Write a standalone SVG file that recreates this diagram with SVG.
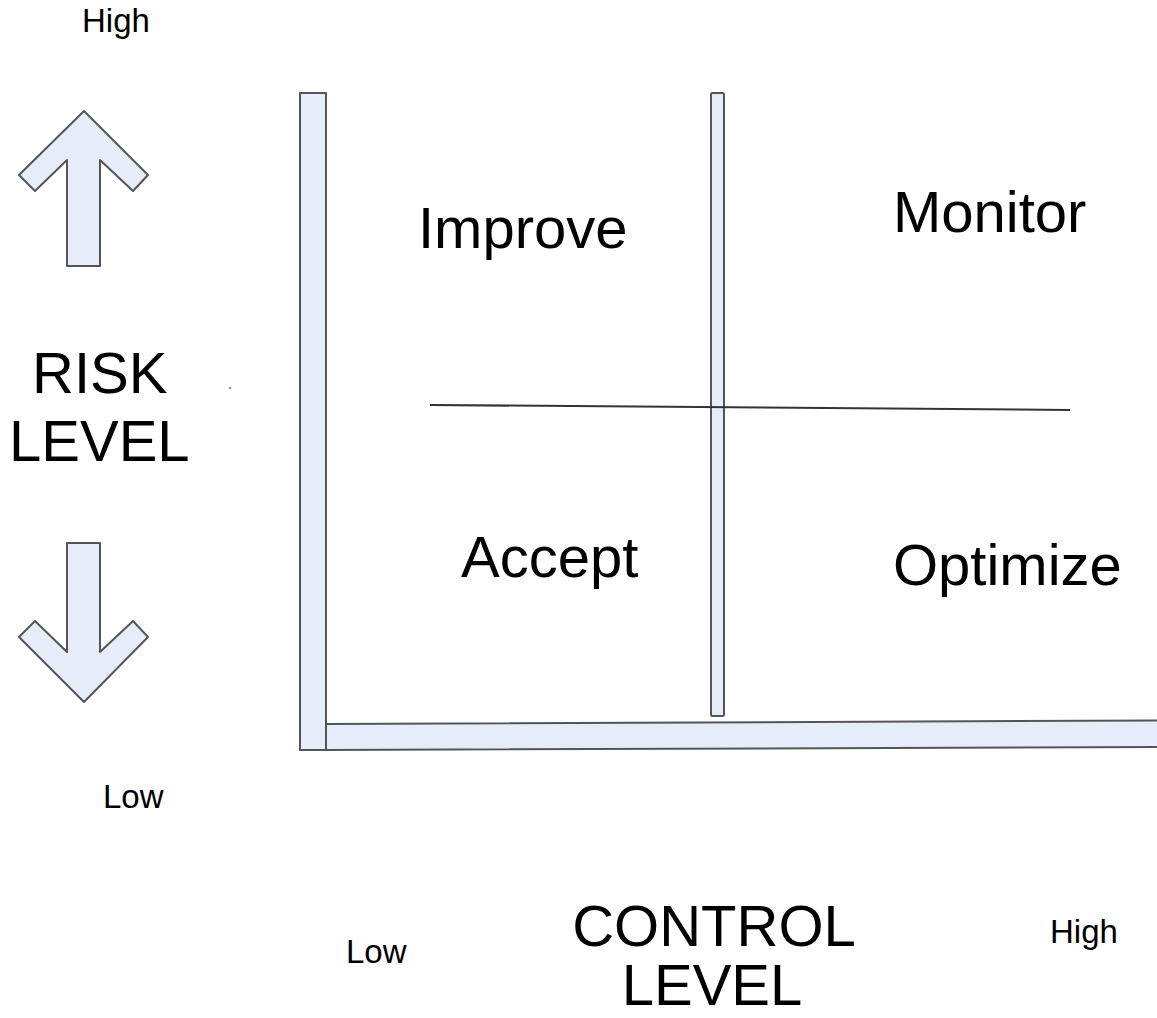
<svg xmlns="http://www.w3.org/2000/svg" width="1157" height="1018" viewBox="0 0 1157 1018">
  <style>
    .bar { fill: #e7edf8; stroke: #555; stroke-width: 2; stroke-linejoin: round; }
    .lbl { font-family: "Liberation Sans", Arial, sans-serif; fill: #000; }
    .big { font-size: 58px; }
    .small { font-size: 33px; }
    .rule { stroke: #333; stroke-width: 2; fill: none; }
  </style>
  <rect width="1157" height="1018" fill="#fff"/>

  <!-- risk axis arrows -->
  <g id="arrow-up">
    <polygon class="bar" points="84,111 148,175 133,191 100,160 100,266 67,266 67,160 35,191 19,175"/>
  </g>
  <g id="arrow-down">
    <polygon class="bar" points="67,543 100,543 100,652 133,621 148,637 84,702 19,637 35,621 67,652"/>
  </g>

  <!-- matrix frame -->
  <g id="axis-vertical">
    <rect class="bar" x="300" y="93" width="26" height="657"/>
  </g>
  <g id="axis-horizontal">
    <polygon class="bar" points="326,724 1158,720.5 1158,747 326,750"/>
  </g>
  <g id="divider-vertical">
    <rect class="bar" x="711" y="93" width="13" height="623" rx="1.5"/>
  </g>

  <g id="connectors">
    <line class="rule" x1="430" y1="405" x2="1070" y2="410"/>
  </g>

  <!-- quadrant labels -->
  <g id="q-improve"><text class="lbl big" x="418" y="248">Improve</text></g>
  <g id="q-monitor"><text class="lbl big" x="893" y="232">Monitor</text></g>
  <g id="q-accept"><text class="lbl big" x="461" y="577">Accept</text></g>
  <g id="q-optimize"><text class="lbl big" x="893" y="585">Optimize</text></g>

  <!-- axis titles -->
  <g id="risk-title">
    <text class="lbl big" x="32" y="393">RISK</text>
    <text class="lbl big" x="9" y="461">LEVEL</text>
  </g>
  <g id="control-title">
    <text class="lbl big" x="714" y="946" text-anchor="middle">CONTROL</text>
    <text class="lbl big" x="712" y="1005" text-anchor="middle">LEVEL</text>
  </g>

  <!-- scale ends -->
  <g id="risk-high"><text class="lbl small" x="82" y="32">High</text></g>
  <g id="risk-low"><text class="lbl small" x="103" y="808">Low</text></g>
  <g id="control-low"><text class="lbl small" x="346" y="963">Low</text></g>
  <g id="control-high"><text class="lbl small" x="1050" y="943">High</text></g>

  <circle cx="230" cy="388" r="1.3" fill="#999"/>
</svg>
